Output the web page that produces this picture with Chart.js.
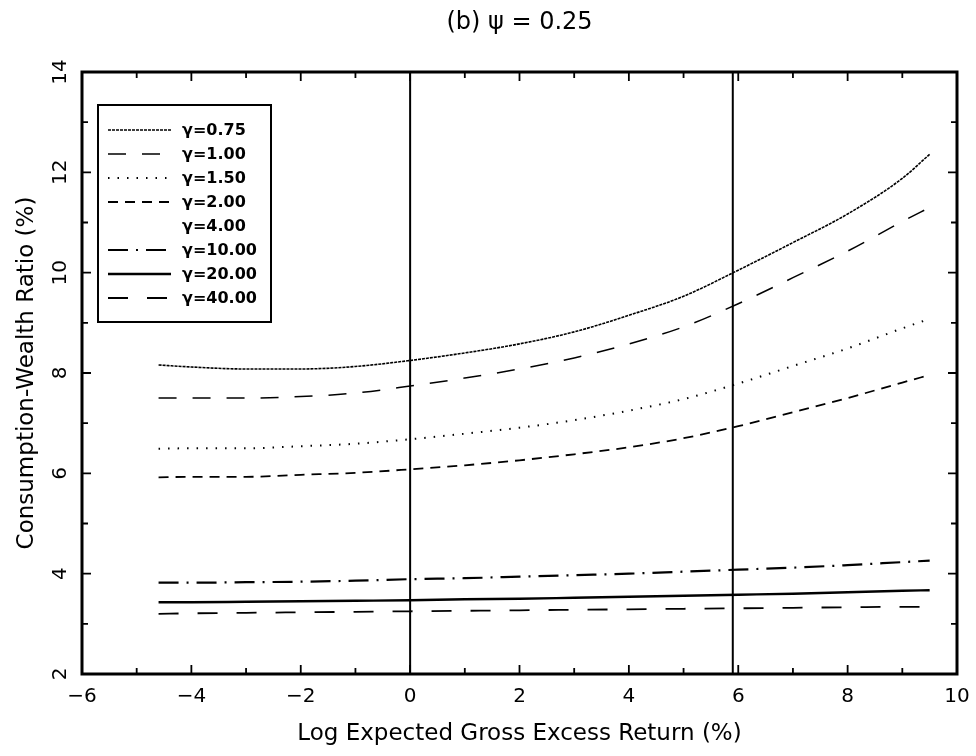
<!DOCTYPE html>
<html><head><meta charset="utf-8">
<script src="https://cdn.jsdelivr.net/npm/chart.js@4.4.1/dist/chart.umd.min.js"></script>
<style>html,body{margin:0;padding:0;background:#fff;}</style>
</head><body>
<canvas id="c" width="976" height="756"></canvas>
<script>
const titleText = '(b) ψ = 0.25';
const xTitle = 'Log Expected Gross Excess Return (%)';
const yTitle = 'Consumption-Wealth Ratio (%)';

const xValues = [-4.6, -4, -3, -2, -1, 0, 1, 2, 3, 4, 5, 6, 7, 8, 9, 9.5];
const g075 = [8.16, 8.12, 8.08, 8.08, 8.13, 8.25, 8.40, 8.58, 8.82, 9.15, 9.53, 10.05, 10.60, 11.17, 11.88, 12.36];
const g100 = [7.50, 7.50, 7.50, 7.53, 7.60, 7.74, 7.90, 8.08, 8.30, 8.58, 8.92, 9.38, 9.90, 10.43, 11.02, 11.30];
const g150 = [6.49, 6.50, 6.50, 6.54, 6.59, 6.68, 6.79, 6.91, 7.06, 7.25, 7.48, 7.79, 8.14, 8.49, 8.89, 9.08];
const g200 = [5.92, 5.93, 5.93, 5.97, 6.01, 6.08, 6.16, 6.26, 6.38, 6.52, 6.70, 6.94, 7.22, 7.50, 7.81, 7.96];
const g400 = [];
const g1000 = [3.82, 3.82, 3.83, 3.84, 3.86, 3.89, 3.91, 3.94, 3.97, 4.00, 4.04, 4.08, 4.12, 4.17, 4.23, 4.26];
const g2000 = [3.43, 3.43, 3.44, 3.45, 3.46, 3.47, 3.49, 3.50, 3.52, 3.54, 3.56, 3.58, 3.60, 3.63, 3.66, 3.67];
const g4000 = [3.20, 3.21, 3.22, 3.23, 3.24, 3.25, 3.26, 3.27, 3.28, 3.29, 3.30, 3.31, 3.32, 3.33, 3.34, 3.34];

const seriesLabels = ['γ=0.75', 'γ=1.00', 'γ=1.50', 'γ=2.00', 'γ=4.00', 'γ=10.00', 'γ=20.00', 'γ=40.00'];
const seriesValues = [g075, g100, g150, g200, g400, g1000, g2000, g4000];

const xTickLabels = ['−6', '−4', '−2', '0', '2', '4', '6', '8', '10'];
const yTickLabels = ['2', '4', '6', '8', '10', '12', '14'];
const refLines = [0, 5.9];

const styles = [
  {dash: [3, 1], w: 1.6},
  {dash: [18, 16], w: 1.5},
  {dash: [1.5, 8], w: 2},
  {dash: [10, 7], w: 1.8},
  {dash: [], w: 0},
  {dash: [20, 8, 2, 8], w: 2.2},
  {dash: [], w: 2.4},
  {dash: [20, 19], w: 1.8}
];

const datasets = seriesLabels.map((lab, i) => ({
  label: lab,
  data: seriesValues[i].map((v, j) => ({x: xValues[j], y: v})),
  borderColor: styles[i].w ? '#000' : 'rgba(0,0,0,0)',
  borderWidth: styles[i].w,
  borderDash: styles[i].dash,
  pointRadius: 0,
  fill: false,
  cubicInterpolationMode: 'monotone'
}));

const decor = {
  id: 'decor',
  afterDraw(chart) {
    const ctx = chart.ctx, a = chart.chartArea;
    const xs = chart.scales.x, ys = chart.scales.y;
    ctx.save();
    ctx.strokeStyle = '#000';
    ctx.setLineDash([]);
    ctx.lineWidth = 2;
    refLines.forEach(v => {
      const p = xs.getPixelForValue(v);
      ctx.beginPath(); ctx.moveTo(p, a.top); ctx.lineTo(p, a.bottom); ctx.stroke();
    });
    ctx.lineWidth = 3;
    ctx.strokeRect(a.left, a.top, a.right - a.left, a.bottom - a.top);
    ctx.lineWidth = 1.8;
    for (let v = -6; v <= 10; v++) {
      const p = xs.getPixelForValue(v);
      const L = (v % 2 === 0) ? 9 : 6;
      ctx.beginPath();
      ctx.moveTo(p, a.bottom); ctx.lineTo(p, a.bottom - L);
      ctx.moveTo(p, a.top); ctx.lineTo(p, a.top + L);
      ctx.stroke();
    }
    for (let v = 2; v <= 14; v++) {
      const p = ys.getPixelForValue(v);
      const L = (v % 2 === 0) ? 9 : 6;
      ctx.beginPath();
      ctx.moveTo(a.left, p); ctx.lineTo(a.left + L, p);
      ctx.moveTo(a.right, p); ctx.lineTo(a.right - L, p);
      ctx.stroke();
    }
    const bx = 98, by = 105, bw = 173, bh = 217;
    ctx.fillStyle = '#fff';
    ctx.fillRect(bx, by, bw, bh);
    ctx.lineWidth = 2;
    ctx.strokeRect(bx, by, bw, bh);
    ctx.font = 'bold 16px "DejaVu Sans"';
    ctx.textBaseline = 'middle';
    ctx.textAlign = 'left';
    ctx.fillStyle = '#000';
    chart.data.datasets.forEach((d, i) => {
      const yy = 130 + i * 24;
      if (d.borderWidth > 0) {
        ctx.lineWidth = d.borderWidth;
        ctx.setLineDash(d.borderDash);
        ctx.beginPath(); ctx.moveTo(108, yy); ctx.lineTo(171, yy); ctx.stroke();
        ctx.setLineDash([]);
      }
      ctx.fillText(d.label, 182, yy + 1);
    });
    ctx.font = '24px "DejaVu Sans"';
    ctx.textAlign = 'center';
    ctx.fillText(titleText, (a.left + a.right) / 2, 23);
    ctx.font = '23px "DejaVu Sans"';
    ctx.fillText(xTitle, (a.left + a.right) / 2, 734);
    ctx.translate(27, (a.top + a.bottom) / 2);
    ctx.rotate(-Math.PI / 2);
    ctx.fillText(yTitle, 0, 0);
    ctx.restore();
  }
};

new Chart(document.getElementById('c'), {
  type: 'line',
  data: {datasets},
  options: {
    responsive: false,
    animation: false,
    devicePixelRatio: 1,
    layout: {padding: {top: 72, right: 19, left: 0, bottom: 0}},
    plugins: {legend: {display: false}, tooltip: {enabled: false}, title: {display: false}},
    scales: {
      x: {
        type: 'linear', min: -6, max: 10,
        grid: {display: false, drawTicks: false},
        border: {display: false},
        ticks: {
          stepSize: 1, autoSkip: false, maxRotation: 0, padding: 11,
          color: '#000', font: {family: 'DejaVu Sans', size: 20},
          callback: v => (v % 2 === 0) ? xTickLabels[(v + 6) / 2] : ''
        },
        afterFit: s => { s.height = 82; s.paddingLeft = 0; s.paddingRight = 0; }
      },
      y: {
        type: 'linear', min: 2, max: 14,
        grid: {display: false, drawTicks: false},
        border: {display: false},
        ticks: {
          stepSize: 1, autoSkip: false, minRotation: 90, maxRotation: 90,
          crossAlign: 'center', padding: 8,
          color: '#000', font: {family: 'DejaVu Sans', size: 20},
          callback: v => (v % 2 === 0) ? yTickLabels[(v - 2) / 2] : ''
        },
        afterFit: s => { s.width = 82; s.paddingTop = 0; s.paddingBottom = 0; }
      }
    }
  },
  plugins: [decor]
});
</script>
</body></html>
